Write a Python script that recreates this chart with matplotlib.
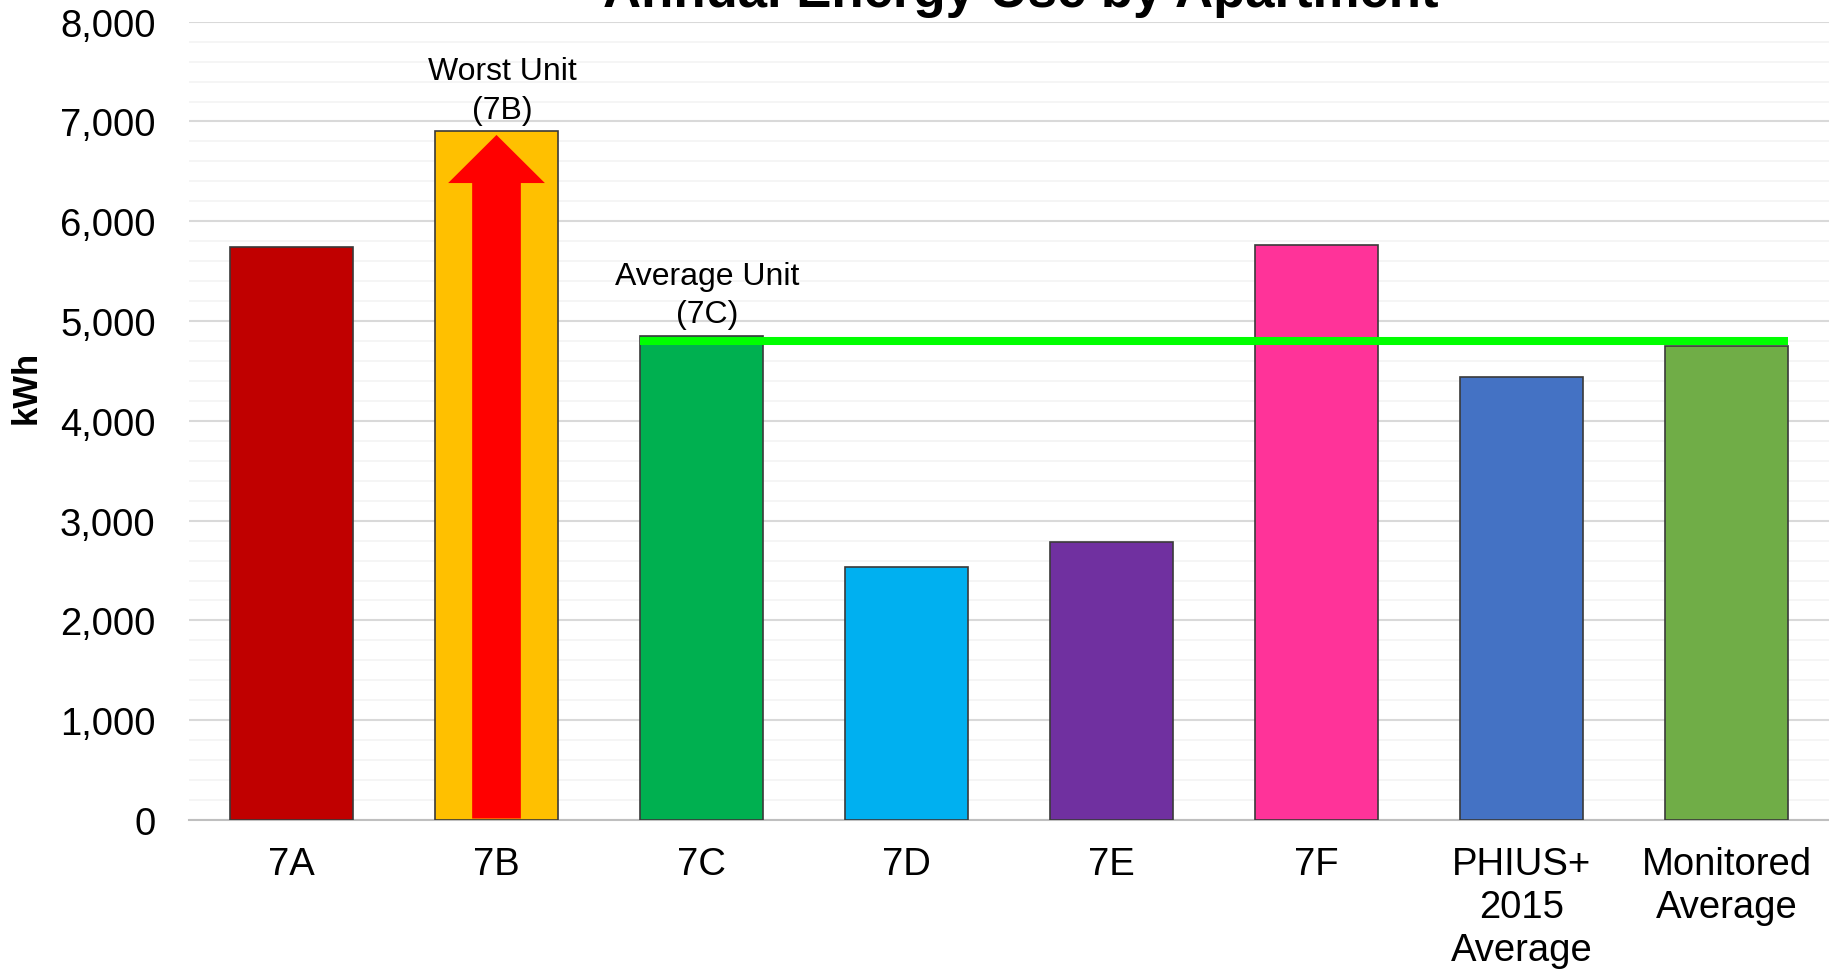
import matplotlib
matplotlib.use('Agg')
import matplotlib.pyplot as plt
from matplotlib.patches import FancyArrow
import numpy as np

plt.rcParams['font.family'] = ['Liberation Sans', 'DejaVu Sans']

# Data
categories = ['7A', '7B', '7C', '7D', '7E', '7F',
              'PHIUS+\n2015\nAverage', 'Monitored\nAverage']
energy_kwh = [5740, 6900, 4850, 2540, 2790, 5760, 4440, 4750]
bar_colors = ['#C00000', '#FFC000', '#00B050', '#00B0F0',
              '#7030A0', '#FF3399', '#4472C4', '#70AD47']
average_line = 4805
worst_idx = 1
average_idx = 2

fig = plt.figure(figsize=(18.29, 9.70), dpi=100)
ax = fig.add_axes([189 / 1829, 149 / 970, 1640 / 1829, 798.3 / 970])

x = np.arange(len(categories))
bar_w = 0.6
ax.bar(x, energy_kwh, width=bar_w, color=bar_colors,
       edgecolor='#3a3a3a', linewidth=1.2, zorder=3)

# red arrow inside the worst unit bar
ax.add_patch(FancyArrow(x[worst_idx], 15, 0, energy_kwh[worst_idx] - 50,
                        width=0.2375, head_width=0.472, head_length=482,
                        length_includes_head=True, color='#FF0000',
                        linewidth=0, zorder=4))

# green average line
ax.hlines(average_line, x[average_idx] - bar_w / 2, x[-1] + bar_w / 2,
          color='#00FF00', linewidth=5.8, zorder=5)

for idx, label in [(worst_idx, 'Worst Unit\n(7B)'),
                   (average_idx, 'Average Unit\n(7C)')]:
    ax.annotate(label, xy=(x[idx], energy_kwh[idx]),
                xytext=(4, 5), textcoords='offset points', ha='center',
                va='bottom', fontsize=23, linespacing=1.35)

ax.set_xlim(-0.5, len(categories) - 0.5)
ax.set_ylim(0, 8000)
ax.set_yticks(np.arange(0, 8001, 1000))
ax.set_yticks(np.arange(0, 8001, 200), minor=True)
ax.set_yticklabels([f'{v:,}' for v in range(0, 8001, 1000)])
ax.set_xticks(x)
ax.set_xticklabels(categories, linespacing=1.25)

ax.grid(axis='y', which='major', color='#D9D9D9', linewidth=1.5, zorder=0)
ax.grid(axis='y', which='minor', color='#F4F4F4', linewidth=1.2, zorder=0)
ax.set_axisbelow(True)

for s in ['top', 'right', 'left']:
    ax.spines[s].set_visible(False)
ax.spines['bottom'].set_color('#BFBFBF')
ax.spines['bottom'].set_linewidth(1.5)
ax.tick_params(axis='both', which='both', length=0)
ax.tick_params(axis='y', labelsize=27.5, pad=24)
ax.tick_params(axis='x', labelsize=27.5, pad=19)

fig.text(25.7 / 1829, 1 - 387 / 970, 'kWh', rotation=90, ha='center',
         va='center', fontsize=25, fontweight='bold')
fig.text(1021 / 1829, 1 - 7 / 970, 'Annual Energy Use by Apartment',
         ha='center', va='baseline', fontsize=38, fontweight='bold')

fig.savefig('out.png', dpi=100)
